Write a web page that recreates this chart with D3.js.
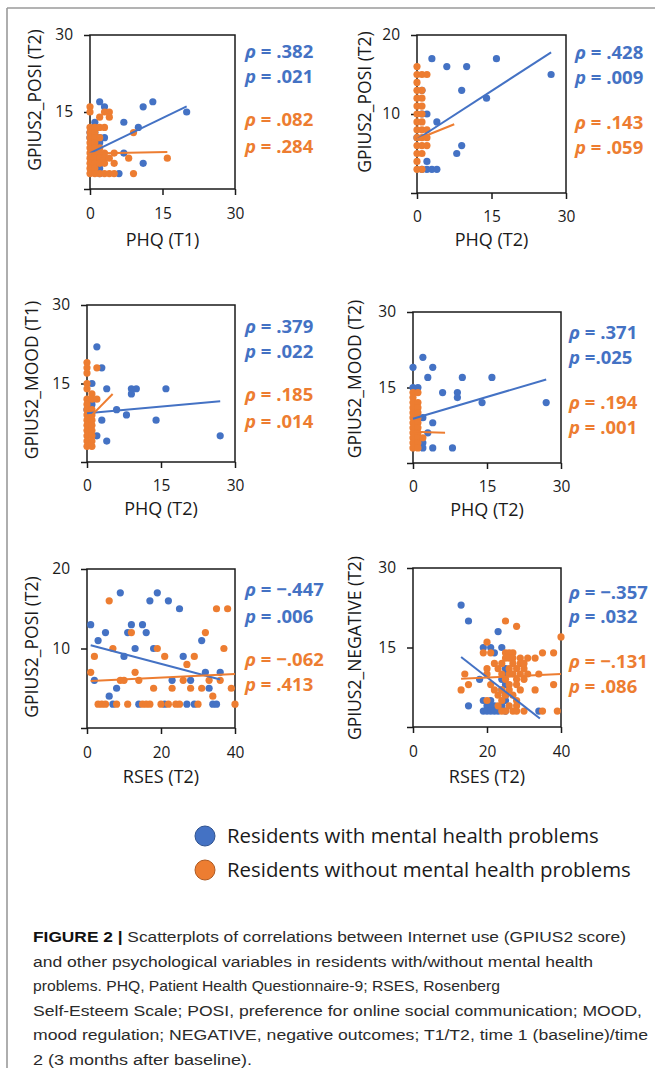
<!DOCTYPE html>
<html><head><meta charset="utf-8">
<script src="https://cdn.jsdelivr.net/npm/d3@7"></script>
<style>body{margin:0;background:#fff}svg{display:block}</style>
</head><body>
<svg id="c" width="655" height="1070"></svg>
<script>
// ---------- DATA ----------
const blueColor = "#4472C4", orangeColor = "#ED7D31";

const p1Blue = [[20,15],[13,17],[11,16],[2,17],[3,16],[7,13],[10,12],[1,13],[0,11],[1,11],[2,10],[3,10],[2,9],[7,7],[11,5],[6,3],[2,4],[2,3],[0,10],[1,8]];
const p1Orange = [[0,16],[0,15],[0,12],[0,11],[0,10],[0,9],[0,8],[0,7],[0,6],[0,5],[0,4],[0,3],
  [1,12],[1,11],[1,10],[1,9],[1,8],[1,7],[1,6],[1,5],[1,4],[1,3],
  [2,14],[2,12],[2,10],[2,8],[2,7],[2,6],[2,5],[2,3],
  [3,15],[3,12],[3,7],[3,6],[3,5],[3,3],[4,15],[4,14],[4,6],[4,3],
  [5,7],[5,5],[5,3],[8,6],[9,11],[9,3],[16,6]];
const p1BlueTrend = [[0,7.0],[20,16.1]];
const p1OrangeTrend = [[0,6.9],[16,7.2]];
const p1Stats = ["ρ = .382","p = .021","ρ = .082","p = .284"];

const p2Blue = [[3,17],[6,16],[10,16],[16,17],[27,15],[9,13],[14,12],[1,13],[1,10],[2,10],[4,9],[0,7],[9,6],[8,5],[2,4],[1,3],[2,3],[3,3],[4,3]];
const p2Orange = [[0,16],[0,15],[0,14],[0,13],[0,12],[0,11],[0,10],[0,9],[0,8],[0,7],[0,6],[0,5],[0,4],[0,3],
  [1,15],[1,13],[1,12],[1,11],[1,10],[1,9],[1,8],[1,7],[1,6],[1,5],[1,3],
  [2,15],[2,8],[2,7],[2,6]];
const p2BlueTrend = [[0,6.8],[27,17.8]];
const p2OrangeTrend = [[0,6.8],[7.5,8.7]];
const p2Stats = ["ρ = .428","p = .009","ρ = .143","p = .059"];

const p3Blue = [[2,22],[3,18],[1,15],[4,14],[9,14],[10,14],[9,13],[16,14],[6,10],[8,9],[3,8],[14,8],[27,5],[2,5],[4,4],[1,11],[0,10]];
const p3Orange = [[0,19],[0,18],[0,17],[0,15],[0,14],[0,12],[0,11],[0,10],[0,9],[0,8],[0,7],[0,6],[0,5],[0,4],[0,3],
  [1,13],[1,12],[1,10],[1,9],[1,8],[1,7],[1,6],[1,5],[1,4],[1,3],[2,18],[2,12]];
const p3BlueTrend = [[0,9.3],[27,11.6]];
const p3OrangeTrend = [[0,8.0],[5.2,13.0]];
const p3Stats = ["ρ = .379","p = .022","ρ = .185","p = .014"];

const p4Blue = [[2,21],[0,19],[4,19],[3,17],[10,17],[16,17],[0,15],[1,15],[6,14],[9,14],[9,13],[14,12],[27,12],[2,9],[4,8],[3,6],[2,4],[2,3],[4,3],[8,3]];
const p4Orange = [[0,14],[0,13],[0,12],[0,11],[0,10],[0,9],[0,8],[0,7],[0,6],[0,5],[0,4],[0,3],
  [1,14],[1,12],[1,11],[1,10],[1,9],[1,8],[1,7],[1,6],[1,5],[1,4],[1,3],[2,5]];
const p4BlueTrend = [[0,8.8],[27,16.6]];
const p4OrangeTrend = [[0,6.2],[6.5,6.0]];
const p4Stats = ["ρ = .371","p =.025","ρ = .194","p = .001"];

const p5Blue = [[1,13],[2,6],[3,11],[5,12],[6,4],[7,3],[8,5],[9,17],[10,9],[11,12],[12,13],[13,10],[15,13],[16,12],[14,3],[17,16],[18,10],[19,17],[21,3],[22,16],[23,6],[25,15],[26,9],[27,3],[28,6],[29,3],[31,11],[32,7],[33,5],[34,3],[35,3],[36,7]];
const p5Orange = [[1,7],[2,9],[3,3],[4,3],[5,3],[6,16],[7,10],[9,6],[10,6],[11,3],[12,12],[13,7],[14,6],[15,3],[16,3],[17,3],[18,5],[19,10],[20,3],[21,9],[22,3],[23,5],[24,3],[25,3],[26,6],[27,8],[28,5],[29,9],[30,3],[31,5],[32,12],[33,6],[34,4],[35,15],[36,6],[37,10],[38,15],[39,5],[40,3],[8,3]];
const p5BlueTrend = [[1,10.4],[36,6.1]];
const p5OrangeTrend = [[1,5.9],[40,6.8]];
const p5Stats = ["ρ = −.447","p = .006","ρ = −.062","p = .413"];

const p6Blue = [[13,23],[15,20],[23,18],[19,15],[21,15],[24,15],[22,14],[18,9],[25,11],[25,10],[24,9],[25,8],[24,7],[25,6],[19,5],[21,5],[25,5],[24,4],[15,4],[20,4],[21,4],[22,4],[19,3],[20,3],[21,3],[22,3],[23,3],[25,3],[34,3]];
const p6Orange = [[13,7],[14,10],[15,8],[20,16],[25,20],[28,19],[40,17],[25,14],[27,14],
  [19,14],[21,14],[26,14],[35,14],[38,14],
  [25,13],[26,13],[27,13],[29,13],[31,13],[33,13],
  [22,12],[24,12],[27,12],[29,12],[30,12],
  [20,11],[23,11],[26,11],[28,11],[30,11],
  [20,10],[24,10],[26,10],[27,10],[29,10],[31,10],[34,10],
  [25,9],[28,9],[30,9],
  [21,8],[26,8],[28,8],[38,8],
  [22,7],[24,7],[26,7],[29,7],[33,7],
  [23,6],[25,6],[27,6],
  [20,5],[24,5],[28,5],
  [23,4],[26,4],[28,4],
  [24,3],[25,3],[27,3],[28,3],[30,3],[35,3],[39,3]];
const p6BlueTrend = [[13,13.2],[34.3,1.6]];
const p6OrangeTrend = [[13,9.1],[40,10.0]];
const p6Stats = ["ρ = −.357","p = .032","ρ = −.131","p = .086"];

const phqTicks = [0,15,30];
const rsesTicks = [0,20,40];
const posiTicks = [0,10,20];
const gpTicks = [0,15,30];

const xTitles = ["PHQ (T1)","PHQ (T2)","PHQ (T2)","PHQ (T2)","RSES (T2)","RSES (T2)"];
const yTitles = ["GPIUS2_POSI (T2)","GPIUS2_POSI (T2)","GPIUS2_MOOD (T1)","GPIUS2_MOOD (T2)","GPIUS2_POSI (T2)","GPIUS2_NEGATIVE (T2)"];

const legendLabels = ["Residents with mental health problems","Residents without mental health problems"];

const captionBold = "FIGURE 2 |";
const captionLines = [
  " Scatterplots of correlations between Internet use (GPIUS2 score)",
  "and other psychological variables in residents with/without mental health",
  "problems. PHQ, Patient Health Questionnaire-9; RSES, Rosenberg",
  "Self-Esteem Scale; POSI, preference for online social communication; MOOD,",
  "mood regulation; NEGATIVE, negative outcomes; T1/T2, time 1 (baseline)/time",
  "2 (3 months after baseline)."
];

// ---------- LAYOUT ----------
const panels = [
  {blue:p1Blue, orange:p1Orange, bt:p1BlueTrend, ot:p1OrangeTrend, stats:p1Stats, xt:phqTicks, yt:gpTicks,
   L:90,R:235,T:35,B:189, ytx:35, yty:100, statX:245, statY:[52,77,120,147], xlab:214, xtit:240},
  {blue:p2Blue, orange:p2Orange, bt:p2BlueTrend, ot:p2OrangeTrend, stats:p2Stats, xt:phqTicks, yt:posiTicks,
   L:417,R:566,T:35,B:193, ytx:365, yty:102, statX:575, statY:[53,78,123,148], xlab:217, xtit:240},
  {blue:p3Blue, orange:p3Orange, bt:p3BlueTrend, ot:p3OrangeTrend, stats:p3Stats, xt:phqTicks, yt:gpTicks,
   L:87,R:235,T:305,B:462, ytx:32, yty:380, statX:245, statY:[327,352,395,422], xlab:486, xtit:509},
  {blue:p4Blue, orange:p4Orange, bt:p4BlueTrend, ot:p4OrangeTrend, stats:p4Stats, xt:phqTicks, yt:gpTicks,
   L:413,R:561,T:312,B:463, ytx:355, yty:379, statX:569, statY:[333,358,403,428], xlab:487, xtit:510},
  {blue:p5Blue, orange:p5Orange, bt:p5BlueTrend, ot:p5OrangeTrend, stats:p5Stats, xt:rsesTicks, yt:posiTicks,
   L:87,R:235,T:569,B:728, ytx:32, yty:647, statX:245, statY:[590,617,660,685], xlab:753, xtit:777},
  {blue:p6Blue, orange:p6Orange, bt:p6BlueTrend, ot:p6OrangeTrend, stats:p6Stats, xt:rsesTicks, yt:gpTicks,
   L:413,R:561,T:568,B:727, ytx:355, yty:648, statX:569, statY:[593,617,662,687], xlab:752, xtit:777}
];

const svg = d3.select("#c");
const FONT = "'Open Sans', 'Noto Sans', sans-serif";
const ink = "#1a1a1a";

// border
svg.append("line").attr("x1",7).attr("x2",7).attr("y1",8).attr("y2",1068)
  .attr("stroke","#9a9a9a").attr("stroke-width",1.6);
svg.append("line").attr("x1",7).attr("x2",655).attr("y1",8).attr("y2",8)
  .attr("stroke","#9a9a9a").attr("stroke-width",1.6);

panels.forEach((p,i) => {
  const x = d3.scaleLinear().domain([p.xt[0], p.xt[p.xt.length-1]]).range([p.L, p.R]);
  const y = d3.scaleLinear().domain([p.yt[0], p.yt[p.yt.length-1]]).range([p.B, p.T]);
  const g = svg.append("g");

  // frame
  g.append("rect").attr("x",p.L).attr("y",p.T).attr("width",p.R-p.L).attr("height",p.B-p.T)
    .attr("fill","none").attr("stroke",ink).attr("stroke-width",1.5);

  // axes
  const ax = g.append("g").attr("transform",`translate(0,${p.B})`)
    .call(d3.axisBottom(x).tickValues(p.xt).tickSize(6).tickSizeOuter(0).tickPadding(0).tickFormat(d3.format("d")));
  ax.select(".domain").remove();
  ax.selectAll("line").attr("stroke",ink).attr("stroke-width",1.5);
  ax.selectAll("text").attr("y", p.xlab - p.B).attr("dy","0.35em")
    .style("font-family",FONT).style("font-size","15.5px").attr("fill",ink);

  const ay = g.append("g").attr("transform",`translate(${p.L},0)`)
    .call(d3.axisLeft(y).tickValues(p.yt).tickSize(6).tickSizeOuter(0).tickPadding(11).tickFormat(d => d===0 ? "" : d3.format("d")(d)));
  ay.select(".domain").remove();
  ay.selectAll("line").attr("stroke",ink).attr("stroke-width",1.5);
  ay.selectAll("text").style("font-family",FONT).style("font-size","15.5px").attr("fill",ink);

  // titles
  g.append("text").attr("x",(p.L+p.R)/2).attr("y",p.xtit).attr("dy","0.35em")
    .attr("text-anchor","middle").style("font-family",FONT).style("font-size","18px").attr("fill",ink)
    .text(xTitles[i]);
  g.append("text").attr("transform",`translate(${p.ytx},${p.yty}) rotate(-90)`).attr("dy","0.35em")
    .attr("text-anchor","middle").style("font-family",FONT).style("font-size","17.5px").attr("fill",ink)
    .text(yTitles[i]);

  // points
  g.append("g").selectAll("circle").data(p.blue).join("circle")
    .attr("cx",d=>x(d[0])).attr("cy",d=>y(d[1])).attr("r",3.6).attr("fill",blueColor);
  g.append("g").selectAll("circle").data(p.orange).join("circle")
    .attr("cx",d=>x(d[0])).attr("cy",d=>y(d[1])).attr("r",3.6).attr("fill",orangeColor);

  // trends
  const line = d3.line().x(d=>x(d[0])).y(d=>y(d[1]));
  g.append("path").attr("d",line(p.bt)).attr("stroke",blueColor).attr("stroke-width",2).attr("fill","none");
  g.append("path").attr("d",line(p.ot)).attr("stroke",orangeColor).attr("stroke-width",2).attr("fill","none");

  // stats
  p.stats.forEach((s,k) => {
    const t = g.append("text").attr("x",p.statX).attr("y",p.statY[k]).attr("dy","0.35em")
      .style("font-family",FONT).style("font-size","18.5px").style("font-weight","bold")
      .attr("fill", k<2 ? blueColor : orangeColor);
    t.append("tspan").style("font-style","italic").text(s[0]);
    t.append("tspan").text(s.slice(1));
  });
});

// legend
const legCols = [[blueColor,"#2F528F"],[orangeColor,"#AE5A21"]];
legendLabels.forEach((lab,k) => {
  const cy = 836 + k*34;
  svg.append("circle").attr("cx",205).attr("cy",cy).attr("r",10)
    .attr("fill",legCols[k][0]).attr("stroke",legCols[k][1]).attr("stroke-width",1);
  svg.append("text").attr("x",227).attr("y",cy).attr("dy","0.35em")
    .style("font-family",FONT).style("font-size","20.4px").attr("fill",ink).text(lab);
});

// caption
const capFont = "'Liberation Sans Narrow', 'Liberation Sans', Arial, sans-serif";
const capEnds = [626, 593, 500, 642, 648, 252];
const capBase = [942, 966.5, 991, 1015.5, 1040, 1064.5];
captionLines.forEach((ln,k) => {
  const t = svg.append("text").attr("x",33).attr("y",capBase[k])
    .style("font-family",capFont).style("font-size","15.5px").attr("fill","#2a2a2a")
    .attr("textLength", capEnds[k]-33).attr("lengthAdjust","spacingAndGlyphs");
  if (k===0) t.append("tspan").style("font-weight","bold").attr("fill","#111").text(captionBold);
  t.append("tspan").text(ln);
});
</script>
</body></html>
